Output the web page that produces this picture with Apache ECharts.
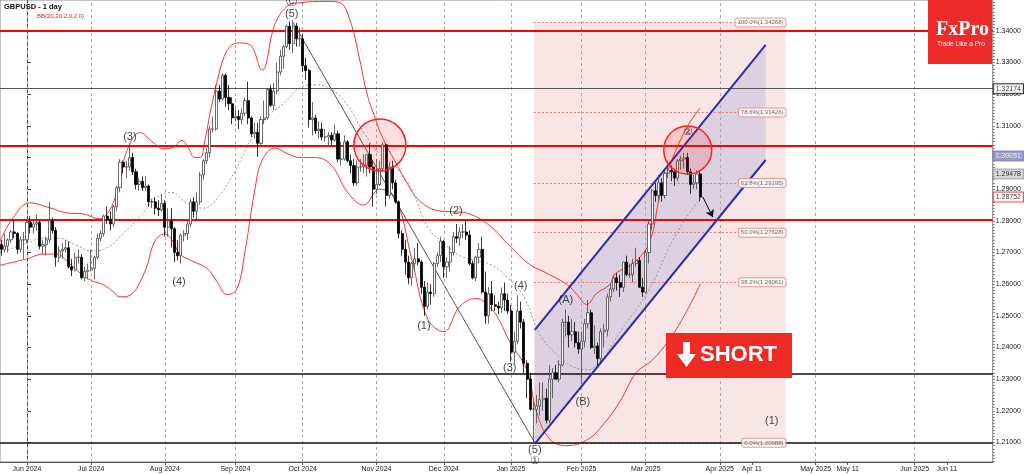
<!DOCTYPE html>
<html><head><meta charset="utf-8">
<script src="https://cdn.jsdelivr.net/npm/echarts@6/dist/echarts.min.js"></script>
<style>html,body{margin:0;padding:0;background:#fff}#c{width:1024px;height:474px}</style>
</head><body><div id="c"></div><script>
// ---- DATA ----
const firstIndex = -8; // index of first candle (22 May 2024); 0 = 3 Jun 2024
// [open, high, low, close] per trading day
const candles = [
[1.2725,1.2740,1.2690,1.2710],[1.2710,1.2760,1.2700,1.2720],[1.2720,1.2745,1.2700,1.2740],[1.2740,1.2770,1.2730,1.2765],
[1.2765,1.2800,1.2745,1.2760],[1.2760,1.2765,1.2695,1.2710],[1.2710,1.2750,1.2700,1.2740],[1.2740,1.2765,1.2680,1.2740],
[1.2740,1.2800,1.2730,1.2795],[1.2795,1.2815,1.2760,1.2780],[1.2780,1.2800,1.2760,1.2790],[1.2790,1.2820,1.2770,1.2795],
[1.2795,1.2800,1.2710,1.2720],[1.2720,1.2740,1.2695,1.2725],[1.2725,1.2750,1.2690,1.2740],[1.2740,1.2860,1.2730,1.2800],
[1.2800,1.2810,1.2760,1.2770],[1.2770,1.2780,1.2655,1.2685],[1.2685,1.2720,1.2670,1.2705],[1.2705,1.2730,1.2680,1.2710],
[1.2710,1.2740,1.2700,1.2715],[1.2715,1.2735,1.2650,1.2655],[1.2655,1.2680,1.2625,1.2645],[1.2645,1.2700,1.2640,1.2685],
[1.2685,1.2710,1.2665,1.2685],[1.2685,1.2695,1.2615,1.2620],[1.2620,1.2655,1.2610,1.2640],[1.2640,1.2665,1.2615,1.2645],
[1.2645,1.2710,1.2640,1.2650],[1.2650,1.2690,1.2615,1.2685],[1.2685,1.2760,1.2680,1.2745],[1.2745,1.2770,1.2735,1.2760],
[1.2760,1.2820,1.2750,1.2815],[1.2815,1.2845,1.2790,1.2805],[1.2805,1.2830,1.2770,1.2790],[1.2790,1.2850,1.2780,1.2845],
[1.2845,1.2910,1.2830,1.2905],[1.2905,1.2995,1.2890,1.2985],[1.2985,1.2990,1.2950,1.2970],[1.2970,1.2990,1.2935,1.2970],
[1.2970,1.3044,1.2960,1.3000],[1.3000,1.3015,1.2945,1.2955],[1.2955,1.2965,1.2900,1.2915],[1.2915,1.2935,1.2895,1.2925],
[1.2925,1.2940,1.2895,1.2905],[1.2905,1.2940,1.2895,1.2910],[1.2910,1.2915,1.2845,1.2860],[1.2860,1.2870,1.2840,1.2860],
[1.2860,1.2875,1.2820,1.2840],[1.2840,1.2865,1.2815,1.2835],[1.2835,1.2885,1.2830,1.2855],[1.2855,1.2865,1.2750,1.2780],
[1.2780,1.2840,1.2750,1.2800],[1.2800,1.2840,1.2715,1.2775],[1.2775,1.2780,1.2670,1.2700],[1.2700,1.2740,1.2675,1.2690],
[1.2690,1.2760,1.2665,1.2755],[1.2755,1.2770,1.2735,1.2760],[1.2760,1.2800,1.2740,1.2790],[1.2790,1.2870,1.2780,1.2860],
[1.2860,1.2875,1.2810,1.2830],[1.2830,1.2890,1.2800,1.2860],[1.2860,1.2955,1.2850,1.2945],[1.2945,1.2995,1.2930,1.2990],
[1.2990,1.3030,1.2980,1.3015],[1.3015,1.3100,1.3000,1.3090],[1.3090,1.3130,1.3080,1.3090],[1.3090,1.3230,1.3085,1.3210],
[1.3210,1.3230,1.3175,1.3185],[1.3185,1.3266,1.3180,1.3260],[1.3260,1.3265,1.3160,1.3190],[1.3190,1.3230,1.3150,1.3170],
[1.3170,1.3190,1.3105,1.3125],[1.3125,1.3155,1.3115,1.3130],[1.3130,1.3150,1.3090,1.3120],[1.3120,1.3155,1.3105,1.3140],
[1.3140,1.3190,1.3130,1.3180],[1.3180,1.3240,1.3105,1.3125],[1.3125,1.3130,1.3065,1.3075],[1.3075,1.3110,1.3060,1.3080],
[1.3080,1.3110,1.3002,1.3045],[1.3045,1.3130,1.3040,1.3120],[1.3120,1.3180,1.3105,1.3125],[1.3125,1.3220,1.3120,1.3215],
[1.3215,1.3230,1.3160,1.3165],[1.3165,1.3235,1.3150,1.3210],[1.3210,1.3300,1.3200,1.3270],[1.3270,1.3340,1.3260,1.3320],
[1.3320,1.3355,1.3280,1.3350],[1.3350,1.3420,1.3345,1.3415],[1.3415,1.3430,1.3340,1.3360],[1.3360,1.3434,1.3330,1.3415],
[1.3415,1.3425,1.3350,1.3375],[1.3375,1.3410,1.3350,1.3375],[1.3375,1.3390,1.3270,1.3290],[1.3290,1.3315,1.3245,1.3275],
[1.3275,1.3280,1.3095,1.3120],[1.3120,1.3175,1.3070,1.3125],[1.3125,1.3135,1.3075,1.3085],[1.3085,1.3115,1.3060,1.3090],
[1.3090,1.3110,1.3055,1.3065],[1.3065,1.3090,1.3050,1.3065],[1.3065,1.3080,1.3040,1.3070],[1.3070,1.3080,1.3040,1.3055],
[1.3055,1.3105,1.3050,1.3075],[1.3075,1.3085,1.2985,1.2995],[1.2995,1.3050,1.2975,1.2995],[1.2995,1.3070,1.2990,1.3050],
[1.3050,1.3055,1.2985,1.2990],[1.2990,1.3010,1.2950,1.2975],[1.2975,1.2995,1.2910,1.2920],[1.2920,1.2990,1.2910,1.2970],
[1.2970,1.2995,1.2955,1.2970],[1.2970,1.3010,1.2950,1.2975],[1.2975,1.3010,1.2940,1.3010],[1.3010,1.3045,1.2950,1.2970],
[1.2970,1.2990,1.2845,1.2900],[1.2900,1.2995,1.2885,1.2915],[1.2915,1.2990,1.2910,1.2965],[1.2965,1.3050,1.2955,1.3040],
[1.3040,1.3045,1.2845,1.2880],[1.2880,1.2985,1.2870,1.2970],[1.2970,1.2990,1.2900,1.2920],[1.2920,1.2930,1.2855,1.2860],
[1.2860,1.2865,1.2745,1.2760],[1.2760,1.2770,1.2690,1.2710],[1.2710,1.2740,1.2630,1.2670],[1.2670,1.2690,1.2600,1.2620],
[1.2620,1.2670,1.2595,1.2665],[1.2665,1.2715,1.2640,1.2680],[1.2680,1.2730,1.2660,1.2670],[1.2670,1.2675,1.2570,1.2590],
[1.2590,1.2610,1.2500,1.2530],[1.2530,1.2605,1.2520,1.2575],[1.2575,1.2600,1.2535,1.2570],[1.2570,1.2670,1.2560,1.2665],
[1.2665,1.2700,1.2655,1.2690],[1.2690,1.2750,1.2670,1.2735],[1.2735,1.2740,1.2620,1.2655],[1.2655,1.2685,1.2620,1.2670],
[1.2670,1.2720,1.2640,1.2700],[1.2700,1.2765,1.2690,1.2750],[1.2750,1.2790,1.2730,1.2745],[1.2745,1.2780,1.2720,1.2765],
[1.2765,1.2790,1.2745,1.2765],[1.2765,1.2800,1.2740,1.2755],[1.2755,1.2770,1.2660,1.2665],[1.2665,1.2675,1.2615,1.2620],
[1.2620,1.2690,1.2610,1.2685],[1.2685,1.2730,1.2665,1.2710],[1.2710,1.2750,1.2570,1.2575],[1.2575,1.2640,1.2475,1.2500],
[1.2500,1.2590,1.2475,1.2570],[1.2570,1.2610,1.2515,1.2535],[1.2535,1.2565,1.2515,1.2530],[1.2530,1.2545,1.2505,1.2525],
[1.2525,1.2590,1.2510,1.2570],[1.2570,1.2605,1.2515,1.2550],[1.2550,1.2570,1.2505,1.2515],[1.2515,1.2535,1.2355,1.2385],
[1.2385,1.2450,1.2350,1.2420],[1.2420,1.2565,1.2410,1.2515],[1.2515,1.2545,1.2460,1.2480],[1.2480,1.2490,1.2320,1.2350],
[1.2350,1.2360,1.2240,1.2300],[1.2300,1.2320,1.2200,1.2205],[1.2205,1.2230,1.2100,1.2205],[1.2205,1.2250,1.2160,1.2215],
[1.2215,1.2290,1.2185,1.2235],[1.2235,1.2290,1.2200,1.2240],[1.2240,1.2270,1.2160,1.2170],[1.2170,1.2345,1.2160,1.2300],
[1.2300,1.2335,1.2240,1.2320],[1.2320,1.2345,1.2300,1.2300],[1.2300,1.2360,1.2290,1.2345],[1.2345,1.2490,1.2340,1.2480],
[1.2480,1.2520,1.2435,1.2480],[1.2480,1.2500,1.2400,1.2440],[1.2440,1.2490,1.2420,1.2450],[1.2450,1.2480,1.2400,1.2415],
[1.2415,1.2450,1.2380,1.2395],[1.2395,1.2450,1.2285,1.2420],[1.2420,1.2490,1.2400,1.2475],[1.2475,1.2550,1.2460,1.2510],
[1.2510,1.2520,1.2395,1.2400],[1.2400,1.2470,1.2380,1.2405],[1.2405,1.2415,1.2335,1.2365],[1.2365,1.2460,1.2355,1.2450],
[1.2450,1.2475,1.2400,1.2455],[1.2455,1.2570,1.2435,1.2560],[1.2560,1.2600,1.2545,1.2585],[1.2585,1.2630,1.2575,1.2620],
[1.2620,1.2635,1.2580,1.2605],[1.2605,1.2630,1.2560,1.2590],[1.2590,1.2670,1.2575,1.2670],[1.2670,1.2690,1.2625,1.2630],
[1.2630,1.2665,1.2620,1.2630],[1.2630,1.2680,1.2605,1.2665],[1.2665,1.2715,1.2655,1.2675],[1.2675,1.2685,1.2590,1.2590],
[1.2590,1.2620,1.2560,1.2575],[1.2575,1.2710,1.2570,1.2700],[1.2700,1.2800,1.2665,1.2790],[1.2790,1.2900,1.2770,1.2895],
[1.2895,1.2920,1.2860,1.2880],[1.2880,1.2945,1.2860,1.2920],[1.2920,1.2935,1.2860,1.2880],[1.2880,1.2960,1.2870,1.2950],
[1.2950,1.2990,1.2935,1.2960],[1.2960,1.2975,1.2925,1.2955],[1.2955,1.2965,1.2910,1.2935],[1.2935,1.2995,1.2925,1.2990],
[1.2990,1.3005,1.2960,1.2995],[1.2995,1.3015,1.2965,1.3000],[1.3000,1.3015,1.2945,1.2955],[1.2955,1.2965,1.2885,1.2915],
[1.2915,1.2945,1.2900,1.2920],[1.2920,1.2960,1.2900,1.2948],[1.2948,1.2960,1.2862,1.2875]
];
// Bollinger bands: [bar index, price]
const bbUpper = [[-8.4,1.2736],[-4.4,1.2809],[0.9,1.2857],[7.2,1.2841],[12.5,1.2825],[17.5,1.2822],[22.8,1.2806],[24.9,1.2822],[26.8,1.2854],[29,1.2927],[31.2,1.3022],[35.2,1.3079],[39.3,1.3048],[42.4,1.3028],[45.5,1.3032],[48.3,1.3054],[50.2,1.3032],[52.4,1.3000],[54,1.3000],[55.5,1.3054],[57.1,1.3140],[59.2,1.3235],[61.1,1.3308],[63.3,1.3350],[65.8,1.3362],[69.5,1.3356],[73.3,1.3276],[77.3,1.3420],[81.1,1.3477],[85.1,1.3489],[93.5,1.3493],[97.6,1.3489],[100.7,1.3435],[103.8,1.3308],[106,1.3203],[108.5,1.3127],[111,1.3060],[114.7,1.2990],[118.5,1.2920],[122.5,1.2863],[128.8,1.2831],[134,1.2828],[138.1,1.2822],[144.4,1.2784],[150.6,1.2720],[156.8,1.2662],[160.9,1.2641],[168.4,1.2599],[171.5,1.2568],[174.6,1.2536],[177.7,1.2571],[181.8,1.2599],[183.3,1.2631],[189.6,1.2670],[194.3,1.2736],[197.4,1.2879],[201.1,1.2990],[205.8,1.3095],[209.9,1.3156]];
const bbLower = [[-8.4,1.2660],[0,1.2680],[5,1.2695],[9.4,1.2695],[12.5,1.2672],[17.1,1.2631],[20.6,1.2609],[23.7,1.2599],[26.8,1.2577],[29,1.2560],[32.1,1.2565],[36.8,1.2641],[39.9,1.2736],[43,1.2758],[45.5,1.2736],[47.7,1.2695],[51.8,1.2672],[56.1,1.2650],[59.2,1.2609],[62.4,1.2567],[65.5,1.2586],[68,1.2704],[71.1,1.2900],[73.3,1.2990],[77.3,1.3030],[81.1,1.3013],[85,1.3000],[90,1.3000],[95,1.2975],[100,1.2890],[105,1.2850],[110,1.2900],[115,1.2870],[120,1.2680],[125,1.2490],[130,1.2450],[135,1.2530],[140,1.2555],[145,1.2520],[147.5,1.2482],[150.6,1.2418],[155.9,1.2329],[159,1.2195],[163.1,1.2110],[168.4,1.2090],[175,1.2110],[180,1.2160],[185,1.2230],[190,1.2320],[195,1.2360],[200,1.2420],[205,1.2500],[210,1.2600]];
const bbMid = [[-8.4,1.2700],[0,1.2730],[5,1.2745],[10,1.2745],[15,1.2725],[20,1.2705],[25,1.2715],[30,1.2760],[35,1.2810],[40,1.2870],[45,1.2890],[50,1.2855],[55,1.2840],[60,1.2880],[65,1.2960],[70,1.3060],[75,1.3130],[80,1.3170],[85,1.3220],[90,1.3230],[95,1.3215],[100,1.3165],[105,1.3080],[110,1.3010],[115,1.2970],[120,1.2900],[125,1.2780],[130,1.2730],[135,1.2690],[140,1.2675],[145,1.2660],[150,1.2620],[155,1.2560],[160,1.2440],[165,1.2380],[170,1.2340],[175,1.2330],[180,1.2370],[185,1.2450],[190,1.2520],[195,1.2600],[200,1.2710],[205,1.2800],[210,1.2870]];
// x-axis ticks (bar index) and labels
const tickPos = [0,20,43,65,86,109,130,151,173,193,216.1,226.1,246,256,276.9,286.9];
const tickLabels = ['Jun 2024','Jul 2024','Aug 2024','Sep 2024','Oct 2024','Nov 2024','Dec 2024','Jan 2025','Feb 2025','Mar 2025','Apr 2025','Apr 11','May 2025','May 11','Jun 2025','Jun 11'];
const monthStarts = [0,20,43,65,86,109,130,151,173,193,216.1,246,276.9];
const priceTicks = [1.21,1.22,1.23,1.24,1.25,1.26,1.27,1.28,1.29,1.30,1.31,1.32,1.33,1.34];
// horizontal levels
const redLevels = [1.3400,1.3036,1.2803];
const blackLevels = [1.2316,1.2099];
const greyLevels = [1.32174];
// Fibonacci retracement
const fibLevels = [1.34268,1.31426,1.29195,1.27628,1.26061,1.20988];
const fibNames = ['100.0%','78.6%','61.8%','50.0%','38.2%','0.0%'];
const fibFrom = 158.1, fibTo = 236.6;
// channel
const chanUpper = [[158.4,1.24553],[230.4,1.33555]];
const chanLower = [[158.4,1.20952],[230.4,1.29922]];
// highlight circles centres
const circles = [[110.07,1.30396],[206.1,1.30238]];
// wave line and forecast arrow
const waveLine = [[83,1.34268],[158.4,1.20988]];
const arrowPts = [[210.8,1.28754],[213.9,1.28122]];
// wave labels
const waveLabels = [
 ['(3)',32.1,1.30649],['(4)',47.4,1.26069],['(5)',82.6,1.34534],['Ⓒ',82.6,1.34913],
 ['(1)',123.8,1.24679],['(2)',133.8,1.28311],['(3)',150.6,1.23352],['(4)',154.0,1.25942],
 ['(5)',158.4,1.20762],['①',158.4,1.20415],['(A)',168.1,1.25501],['(B)',173.4,1.22279],
 ['②',206.1,1.30807],['(1)',232.3,1.21679]
];
// right-axis price tags
const priceTags = [1.32174,1.30051,1.29478,1.28752];

// ---- CHART ----
const X_MIN = -8.42, X_MAX = 301.22;
const chart = echarts.init(document.getElementById('c'), null, {renderer:'canvas'});
const ohlc = candles.map((c,k)=>[firstIndex+k, c[0], c[3], c[2], c[1]]);
const minorTicks = []; for (let v=1204; v<=1349; v++) minorTicks.push(v/1000);
const tagStyles = [
 {backgroundColor:'#fff',borderColor:'#000',color:'#000'},
 {backgroundColor:'#9090c8',borderColor:'#7070b0',color:'#fff'},
 {backgroundColor:'#cfcfcf',borderColor:'#999',color:'#000'},
 {backgroundColor:'#fff',borderColor:'#e03030',color:'#000'}
];
const FONT = '"Liberation Sans", Arial, sans-serif';

const option = {
 animation:false,
 backgroundColor:'#fff',
 grid:{left:0,right:31,top:0,bottom:12,show:true,borderColor:'#888',borderWidth:1,backgroundColor:'transparent'},
 xAxis:{type:'value',min:X_MIN,max:X_MAX,
   axisLine:{show:true,lineStyle:{color:'#555'}},
   axisTick:{show:true,customValues:tickPos,length:3,lineStyle:{color:'#555'}},
   axisLabel:{show:true,customValues:tickPos,fontSize:7,color:'#222',fontFamily:FONT,margin:4,hideOverlap:false,
     formatter:v=>{for(let k=0;k<tickPos.length;k++){if(Math.abs(tickPos[k]-v)<0.01)return tickLabels[k];}return '';}},
   splitLine:{show:false}},
 yAxis:[
  {type:'value',position:'right',min:1.20383,max:1.34976,scale:true,
   axisLine:{show:true,lineStyle:{color:'#444'}},
   axisTick:{show:true,customValues:priceTicks,length:4,lineStyle:{color:'#444'}},
   axisLabel:{show:true,customValues:priceTicks,fontSize:7,color:'#222',fontFamily:FONT,margin:3,formatter:v=>v.toFixed(5)},
   splitLine:{show:false}},
  {type:'value',position:'right',min:1.20383,max:1.34976,scale:true,
   axisLine:{show:false},
   axisTick:{show:true,customValues:minorTicks,length:2,lineStyle:{color:'#777'}},
   axisLabel:{show:false},splitLine:{show:false}}
 ],
 graphic:[
  {type:'text',left:4,top:3,z:100,style:{text:'GBPUSD - 1 day',font:'bold 7.5px '+FONT,fill:'#111'}},
  {type:'text',left:37,top:13,z:100,style:{text:'BB(20,20,2.0,2.0)',font:'6px '+FONT,fill:'#e02020'}},
  {type:'rect',z:100,shape:{x:928,y:0,width:64,height:64},style:{fill:'#ee2b2b'}},
  {type:'text',z:101,x:936,y:20,style:{text:'FxPro',font:'bold 20px "Liberation Serif", "DejaVu Serif", serif',fill:'#fff'}},
  {type:'text',z:101,x:937,y:41,style:{text:'Trade Like a Pro',font:'6.5px '+FONT,fill:'#fff'}},
  {type:'rect',z:100,shape:{x:666,y:333,width:126,height:45},style:{fill:'#ee2a25'}},
  {type:'rect',z:101,shape:{x:683,y:342,width:7,height:14},style:{fill:'#fff'}},
  {type:'polygon',z:101,shape:{points:[[677,354],[696,354],[686.5,367]]},style:{fill:'#fff'}},
  {type:'text',z:101,x:700,y:344,style:{text:'SHORT',font:'bold 22px "Liberation Sans", Arial, sans-serif',fill:'#fff'}}
 ],
 series:[
  // Fibonacci box, levels and vertical month lines
  {type:'line',data:[],z:1,silent:true,
   markArea:{silent:true,itemStyle:{color:'rgba(240,200,200,0.45)'},
     data:[[{coord:[fibFrom,fibLevels[0]]},{coord:[fibTo,fibLevels[fibLevels.length-1]]}]]},
   markLine:{silent:true,symbol:'none',precision:6,label:{show:false},animation:false,
     data:[
       ...monthStarts.map(v=>({xAxis:v,lineStyle:{color:'#aaa',type:[3,3],width:1}})),
       ...fibLevels.map(l=>[{coord:[fibFrom,l],lineStyle:{color:'#e07a7a',type:[2,2],width:1}},{coord:[fibTo,l]}])
     ]}
  },
  // channel fill
  {type:'custom',z:2,silent:true,clip:false,data:[[chanUpper[0][0],chanUpper[0][1]]],
   renderItem:(params,api)=>({type:'polygon',shape:{points:[api.coord(chanUpper[0]),api.coord(chanUpper[1]),api.coord(chanLower[1]),api.coord(chanLower[0])]},
     style:{fill:'rgba(150,150,210,0.28)'}})},
  // Bollinger bands
  {type:'line',data:bbUpper,smooth:0.4,symbol:'none',z:3,silent:true,lineStyle:{color:'#ff3030',width:1}},
  {type:'line',data:bbLower,smooth:0.4,symbol:'none',z:3,silent:true,lineStyle:{color:'#ff3030',width:1}},
  {type:'line',data:bbMid,smooth:0.4,symbol:'none',z:3,silent:true,lineStyle:{color:'#999',width:1,type:[2,2]}},
  // wave line
  {type:'line',data:waveLine,symbol:'none',z:3,silent:true,lineStyle:{color:'#555',width:1}},
  // candles
  {type:'candlestick',z:5,data:ohlc,encode:{x:0,y:[1,2,3,4]},barWidth:2.6,silent:true,
   itemStyle:{color:'#ffffff',color0:'#000000',borderColor:'#444',borderColor0:'#000',borderWidth:0.8}},
  // horizontal level lines
  {type:'line',data:[],z:6,silent:true,
   markLine:{silent:true,symbol:'none',precision:6,label:{show:false},
     data:[
       ...redLevels.map(v=>({yAxis:v,lineStyle:{color:'#ff0000',width:2,type:'solid'}})),
       ...blackLevels.map(v=>({yAxis:v,lineStyle:{color:'#111',width:1.6,type:'solid'}})),
       ...greyLevels.map(v=>({yAxis:v,lineStyle:{color:'#555',width:1,type:'solid'}}))
     ]}},
  // channel lines
  {type:'line',data:chanUpper,symbol:'none',z:7,silent:true,lineStyle:{color:'#2e2ea0',width:2}},
  {type:'line',data:chanLower,symbol:'none',z:7,silent:true,lineStyle:{color:'#2e2ea0',width:2}},
  // circles
  {type:'custom',z:8,silent:true,clip:false,data:circles,
   renderItem:(params,api)=>{const c=api.coord([api.value(0),api.value(1)]);const r=params.dataIndex===0?26:24;
     return {type:'circle',shape:{cx:c[0],cy:c[1],r:r},style:{fill:'rgba(255,40,40,0.15)',stroke:'#ff2020',lineWidth:1.5}};}},
  // forecast arrow
  {type:'line',data:[],z:9,silent:true,
   markLine:{silent:true,symbol:['none','arrow'],symbolSize:7,precision:6,label:{show:false},
     data:[[{coord:arrowPts[0],lineStyle:{color:'#000',width:1,type:'solid'}},{coord:arrowPts[1]}]]}},
  // fib labels
  {type:'scatter',z:10,silent:true,clip:false,symbolSize:0,
   data:fibLevels.map((l,k)=>({value:[fibTo,l],name:fibNames[k]+'('+l.toFixed(5)+')'})),
   label:{show:true,position:'left',distance:0,formatter:p=>p.name,fontSize:6,fontFamily:FONT,color:'#444',
     backgroundColor:'#fff',borderColor:'#e08a8a',borderWidth:1,borderRadius:2,padding:[1,2]}},
  // wave labels
  {type:'scatter',z:11,silent:true,clip:false,symbolSize:0,
   data:waveLabels.map(w=>({value:[w[1],w[2]],name:w[0]})),
   label:{show:true,position:'inside',formatter:p=>p.name,fontSize:11,fontFamily:FONT,color:'#111'}},
  // price tags on the axis
  {type:'scatter',z:12,silent:true,clip:false,symbolSize:0,
   data:priceTags.map((v,k)=>({value:[X_MAX,v],label:tagStyles[k]})),
   label:{show:true,position:'right',distance:1,formatter:p=>p.value[1].toFixed(5),fontSize:7,fontFamily:FONT,borderWidth:1,padding:[1,2]}}
 ]
};
chart.setOption(option);
</script></body></html>
